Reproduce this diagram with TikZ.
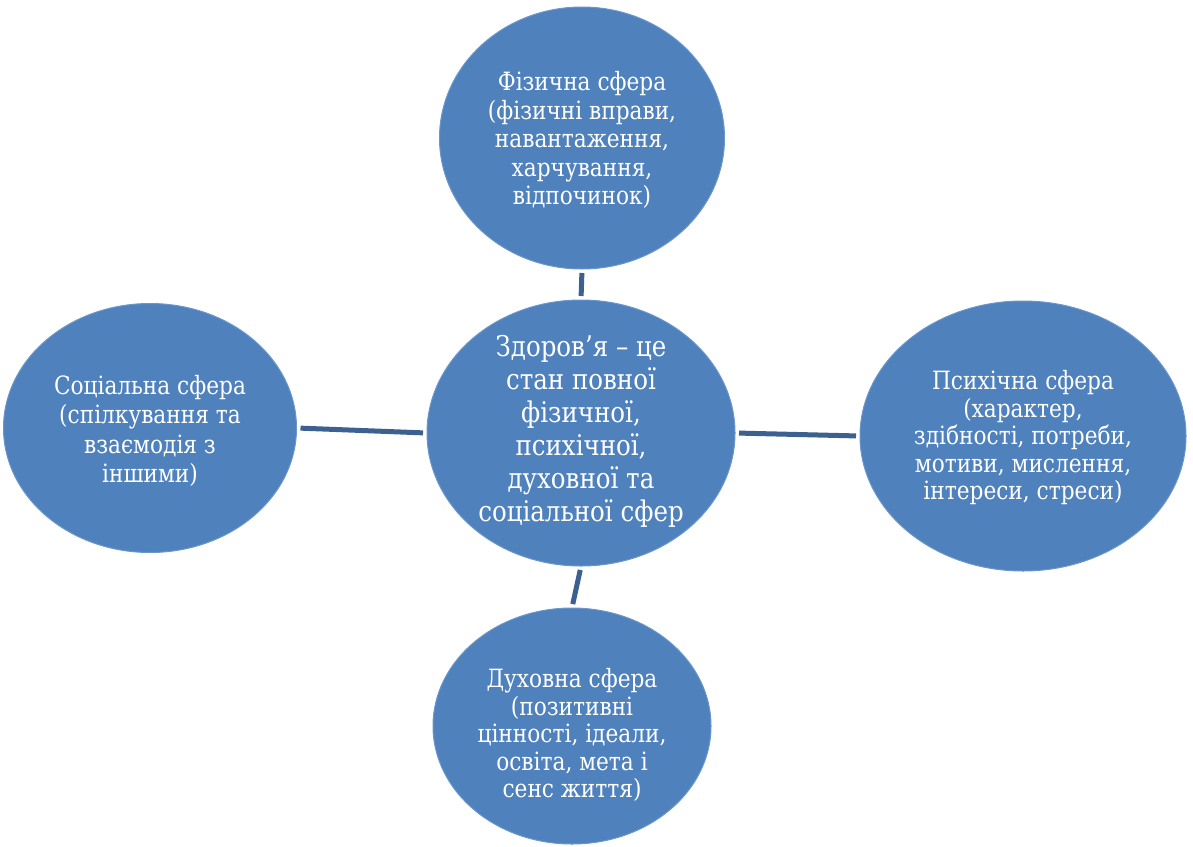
\documentclass[tikz,border=0pt]{standalone}
\usepackage{fontspec}
\setmainfont{DejaVu Serif}[FakeStretch=0.86]
\usetikzlibrary{shapes.geometric}
\definecolor{fillblue}{HTML}{4F81BD}
\definecolor{edgeblue}{HTML}{6A96CC}
\definecolor{linkblue}{RGB}{60,96,144}
\tikzset{
  blob/.style={ellipse, fill=fillblue, draw=edgeblue, line width=1pt, inner sep=0pt},
  txt/.style={text=white, align=center, inner sep=0pt, font=\fontsize{25.2pt}{28.5pt}\selectfont},
  bigtxt/.style={text=white, align=center, inner sep=0pt, font=\fontsize{28.5pt}{33pt}\selectfont},
  conn/.style={draw=linkblue, line width=5pt, shorten <=3.5pt, shorten >=3.5pt}
}
\begin{document}
\begin{tikzpicture}[x=1pt,y=-1pt]
\useasboundingbox (0,0) rectangle (1193,846);
\node[blob, minimum width=285pt, minimum height=262pt] (t) at (582,138) {};
\node[blob, minimum width=308pt, minimum height=266pt] (c) at (581,433) {};
\node[blob, minimum width=293pt, minimum height=249pt] (l) at (150,428) {};
\node[blob, minimum width=326pt, minimum height=270pt] (r) at (1023,436) {};
\node[blob, minimum width=278pt, minimum height=236pt] (b) at (572,726) {};
\node[txt] (tt) at (582,140) {Фізична сфера\\(фізичні вправи,\\навантаження,\\харчування,\\відпочинок)};
\node[bigtxt] (ct) at (581,431) {Здоров’я – це\\стан повної\\фізичної,\\психічної,\\духовної та\\соціальної сфер};
\node[txt, font=\fontsize{25.2pt}{29.5pt}\selectfont] (lt) at (150,431) {Соціальна сфера\\(спілкування та\\взаємодія з\\іншими)};
\node[txt, font=\fontsize{25.2pt}{27.5pt}\selectfont] (rt) at (1023,438) {Психічна сфера\\(характер,\\здібності, потреби,\\мотиви, мислення,\\інтереси, стреси)};
\node[txt, font=\fontsize{25.2pt}{27.5pt}\selectfont] (bt) at (572,735) {Духовна сфера\\(позитивні\\цінності, ідеали,\\освіта, мета і\\сенс життя)};
\draw[conn] (t.south) -- (c.north);
\draw[conn] (l.east) -- (c.west);
\draw[conn] (c.east) -- (r.west);
\draw[conn] (c.south) -- (b.north);
\end{tikzpicture}
\end{document}
